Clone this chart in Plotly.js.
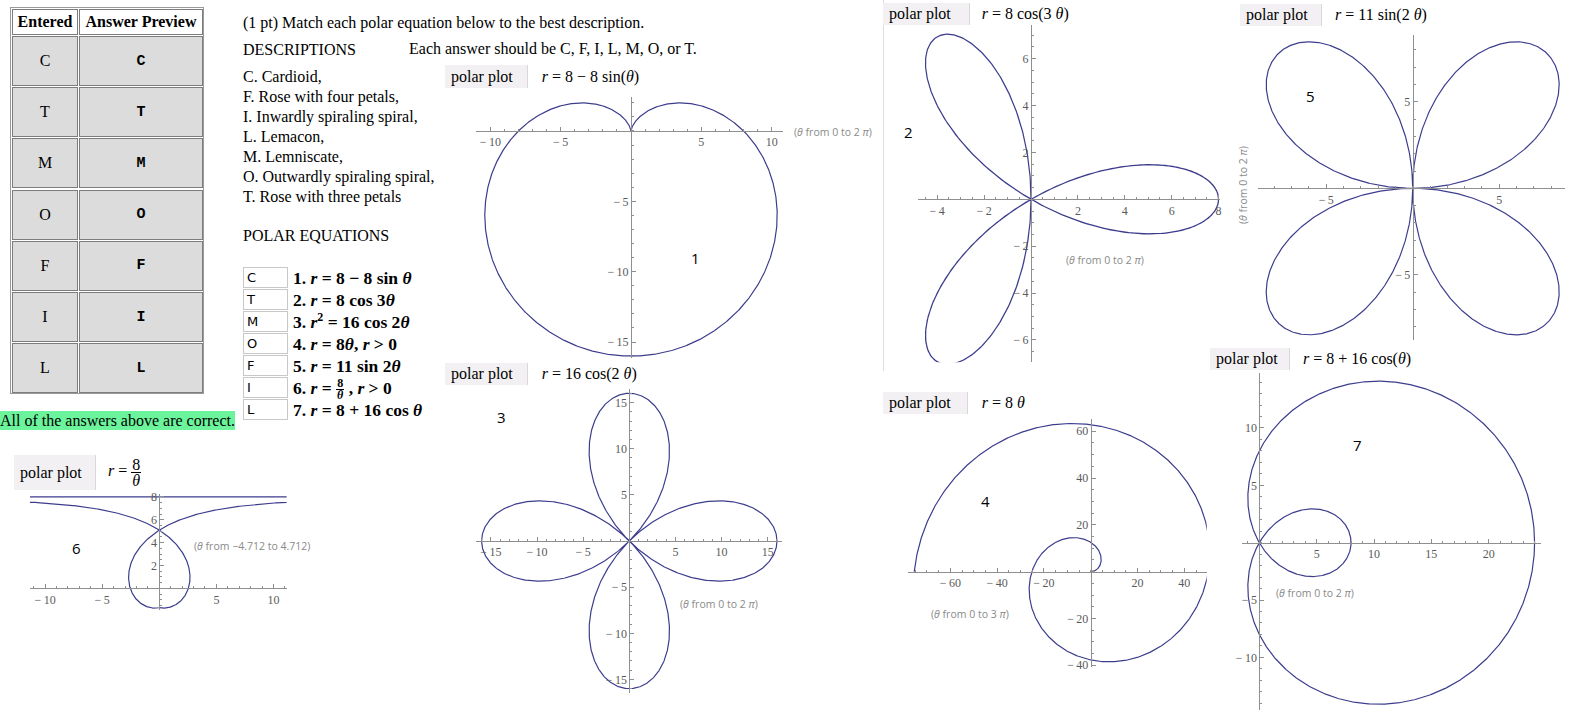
<!DOCTYPE html>
<html>
<head>
<meta charset="utf-8">
<script src="https://cdn.plot.ly/plotly-3.0.1.min.js"></script>
<style>
  html, body { margin:0; padding:0; }
  body { width:1592px; height:719px; overflow:hidden; background:#fff; position:relative;
         font-family:'Liberation Serif','Times New Roman',serif; color:#000; }
  #chart { position:absolute; left:0; top:0; width:1592px; height:719px; }
  .ov { position:absolute; white-space:nowrap; }
  .cell { position:absolute; box-sizing:border-box; border:1px solid #7d7d7d; display:flex;
          align-items:center; justify-content:center; font-size:16px; }
  .hdr { font-weight:bold; background:#fff; }
  .dat { background:#dcdcdc; }
  .mono { font-family:'Liberation Mono','Courier New',monospace; font-weight:bold; font-size:15px; }
  .txt { font-size:16px; line-height:20px; }
  .inp { position:absolute; box-sizing:border-box; width:45px; height:21px; border:1px solid #c8c8c8;
         font-family:'DejaVu Sans',sans-serif; font-size:13px; line-height:19px; padding-left:3px; }
  .eq { position:absolute; font-size:17.5px; font-weight:bold; white-space:nowrap; line-height:20px; }
  .eq sup { font-size:12px; line-height:0; vertical-align:7px; }
  .pp { position:absolute; box-sizing:border-box; background:#f3f0f3; border-right:1px solid #d8d8d8;
        font-size:16px; padding-left:6px; display:flex; align-items:center; }
  .pe { position:absolute; font-size:16px; white-space:pre; display:flex; align-items:center; }
  .frac { display:inline-block; vertical-align:middle; text-align:center; line-height:15px; }
  .frac span { display:block; padding:0 1px; }
  .frac .num { border-bottom:1px solid #000; }
  .eq .frac { font-size:12px; line-height:11px; vertical-align:-5px; }
</style>
</head>
<body>
<div id="chart"></div>
<div id="overlay"></div>
<script>
// ---------------- data ----------------
const entered = ['C', 'T', 'M', 'O', 'F', 'I', 'L'];
const descriptions = ['C. Cardioid,', 'F. Rose with four petals,', 'I. Inwardly spiraling spiral,',
  'L. Lemacon,', 'M. Lemniscate,', 'O. Outwardly spiraling spiral,', 'T. Rose with three petals'];
const problemEquations = [
  '1. <i>r</i> = 8 − 8 sin <i>θ</i>',
  '2. <i>r</i> = 8 cos 3<i>θ</i>',
  '3. <i>r</i><sup>2</sup> = 16 cos 2<i>θ</i>',
  '4. <i>r</i> = 8<i>θ</i>, <i>r</i> &gt; 0',
  '5. <i>r</i> = 11 sin 2<i>θ</i>',
  '6. <i>r</i> = <span class="frac"><span class="num">8</span><span><i>θ</i></span></span> , <i>r</i> &gt; 0',
  '7. <i>r</i> = 8 + 16 cos <i>θ</i>'
];

// polar plots, numbered 1..7
const plotNumbers = [1, 2, 3, 4, 5, 6, 7];
const plotHeaders = [
  '<i>r</i> = 8 − 8 sin(<i>θ</i>)',
  '<i>r</i> = 8 cos(3 <i>θ</i>)',
  '<i>r</i> = 16 cos(2 <i>θ</i>)',
  '<i>r</i> = 8 <i>θ</i>',
  '<i>r</i> = 11 sin(2 <i>θ</i>)',
  '<i>r</i> = <span class="frac"><span class="num">8</span><span><i>θ</i></span></span>',
  '<i>r</i> = 8 + 16 cos(<i>θ</i>)'
];
// r = radiusConst + radiusAmp * f(radiusFreq * θ)
const radiusKind  = ['sin', 'cos', 'cos', 'lin', 'sin', 'inv', 'cos'];
const radiusConst = [8, 0, 0, 0, 0, 0, 8];
const radiusAmp   = [-8, 8, 16, 8, 11, 8, 16];
const radiusFreq  = [1, 3, 2, 1, 2, 1, 1];
const thetaFrom   = [0, 0, 0, 0, 0, -4.712, 0];
const thetaTo     = [2 * Math.PI, 2 * Math.PI, 2 * Math.PI, 3 * Math.PI, 2 * Math.PI, 4.712, 2 * Math.PI];
const thetaLabels = ['0 to 2 <i>π</i>', '0 to 2 <i>π</i>', '0 to 2 <i>π</i>', '0 to 3 <i>π</i>',
                     '0 to 2 <i>π</i>', '−4.712 to 4.712', '0 to 2 <i>π</i>'];
const xTickValues = [[-10, -5, 5, 10], [-4, -2, 2, 4, 6, 8], [-15, -10, -5, 5, 10, 15],
                     [-60, -40, -20, 20, 40], [-5, 5], [-10, -5, 5, 10], [5, 10, 15, 20]];
const yTickValues = [[-15, -10, -5], [-6, -4, -2, 2, 4, 6], [-15, -10, -5, 5, 10, 15],
                     [-40, -20, 20, 40, 60], [-5, 5], [2, 4, 6, 8], [-10, -5, 5, 10]];
const xRanges = [[-11, 10.8], [-4.8, 8.06], [-16.6, 16.5], [-77.9, 49.6], [-8.92, 8.8], [-11.32, 11.15], [-1.53, 24.53]];
const yRanges = [[-16.15, 2.45], [-6.95, 7.45], [-16.5, 16.5], [-40.6, 65.1], [-8.77, 8.86], [-1.9, 8.3], [-14.6, 14.77]];

// ---------------- layout (pixels) ----------------
const W = 1592, H = 719;
const origin = [[631, 131], [1031, 199.3], [629.3, 541], [1090.7, 571.7], [1412.7, 188.3], [159.3, 588.3], [1259.3, 542.7]];
const pxPerUnit = [14.07, 23.45, 9.23, 2.34, 17.3, 11.42, 11.47];
const minorX = [1, 0.5, 1, 5, 1, 1, 1];
const minorY = [1, 0.5, 1, 5, 1, 0.5, 1];
const numberPos = [[695.7, 257.7], [908, 131.7], [501.7, 416.7], [985.7, 500.7], [1310.7, 95.7], [76.3, 548.3], [1357.7, 445]];
const rangeLabelPos = [[791.7, 132], [1064, 260], [678.3, 604.3], [929.3, 614.3], [1243, 185], [191.7, 546], [1274, 593]];
const headerBox = [[445, 65, 83, 23], [883, 3, 87, 22], [445, 363, 83, 22], [883, 392, 85, 22],
                   [1240, 4, 82, 22], [14, 455, 82, 35], [1210, 348, 80, 22]];
const headerEqX = [541.7, 981.7, 541.7, 981.7, 1335, 108, 1303];

const lineColor = '#3d3d8e';
const axisColor = '#8f8f8f';

function radius(i, t) {
  const k = radiusKind[i];
  if (k === 'sin') return radiusConst[i] + radiusAmp[i] * Math.sin(radiusFreq[i] * t);
  if (k === 'cos') return radiusConst[i] + radiusAmp[i] * Math.cos(radiusFreq[i] * t);
  if (k === 'lin') return radiusAmp[i] * t;
  return radiusAmp[i] / t;
}
function fmt(v) { return v < 0 ? '\u2212\u2009' + Math.abs(v) : String(v); }

const traces = [];
const layout = {
  width: W, height: H, autosize: false,
  margin: { l: 0, r: 0, t: 0, b: 0, pad: 0 },
  paper_bgcolor: '#ffffff', plot_bgcolor: 'rgba(0,0,0,0)',
  showlegend: false, annotations: [], shapes: []
};

for (let i = 0; i < 7; i++) {
  const n = 1500;
  const xs = [], ys = [];
  for (let j = 0; j < n; j++) {
    const t = thetaFrom[i] + (thetaTo[i] - thetaFrom[i]) * j / (n - 1);
    const r = radius(i, t);
    xs.push(r * Math.cos(t));
    ys.push(r * Math.sin(t));
  }
  const ax = i === 0 ? '' : String(i + 1);
  traces.push({ type: 'scatter', mode: 'lines', x: xs, y: ys, xaxis: 'x' + ax, yaxis: 'y' + ax,
                line: { color: lineColor, width: 1.2 }, hoverinfo: 'skip' });

  const [ox, oy] = origin[i], p = pxPerUnit[i];
  const left = ox + xRanges[i][0] * p, right = ox + xRanges[i][1] * p;
  const top = oy - yRanges[i][1] * p, bottom = oy - yRanges[i][0] * p;
  const tickfont = { family: 'Liberation Serif', size: 12, color: '#5a5a5a' };
  layout['xaxis' + ax] = {
    domain: [left / W, right / W], range: xRanges[i], anchor: 'free', position: 1 - oy / H,
    showgrid: false, zeroline: false, showline: true, linecolor: axisColor, linewidth: 1,
    tickmode: 'array', tickvals: xTickValues[i], ticktext: xTickValues[i].map(fmt),
    ticks: 'inside', ticklen: 4, tickcolor: axisColor, tickwidth: 1, tickfont: tickfont,
    minor: { tickmode: 'linear', tick0: 0, dtick: minorX[i], ticks: 'inside', ticklen: 2, tickcolor: axisColor },
    fixedrange: true
  };
  layout['yaxis' + ax] = {
    domain: [1 - bottom / H, 1 - top / H], range: yRanges[i], anchor: 'free', position: ox / W,
    showgrid: false, zeroline: false, showline: true, linecolor: axisColor, linewidth: 1,
    tickmode: 'array', tickvals: yTickValues[i], ticktext: yTickValues[i].map(fmt),
    ticks: 'inside', ticklen: 4, tickcolor: axisColor, tickwidth: 1, tickfont: tickfont,
    minor: { tickmode: 'linear', tick0: 0, dtick: minorY[i], ticks: 'inside', ticklen: 2, tickcolor: axisColor },
    fixedrange: true
  };

  // plot number
  layout.annotations.push({ xref: 'paper', yref: 'paper', x: numberPos[i][0] / W, y: 1 - numberPos[i][1] / H,
    text: String(plotNumbers[i]), showarrow: false, xanchor: 'center', yanchor: 'middle',
    font: { family: 'Open Sans, sans-serif', size: 15, color: '#000' } });
  // theta range label
  const vertical = i === 4;
  layout.annotations.push({ xref: 'paper', yref: 'paper', x: rangeLabelPos[i][0] / W, y: 1 - rangeLabelPos[i][1] / H,
    text: '(<i>θ</i> from ' + thetaLabels[i] + ')', showarrow: false,
    xanchor: vertical ? 'center' : 'left', yanchor: 'middle', textangle: vertical ? -90 : 0,
    font: { family: 'Open Sans, sans-serif', size: 10.5, color: '#8a8a8a' } });
}

Plotly.newPlot('chart', traces, layout, { staticPlot: true, displayModeBar: false });

// ---------------- HTML overlay: table, text, headers ----------------
const ov = document.getElementById('overlay');
let html = '';
// table
html += '<div class="ov" style="left:10px;top:7px;width:194px;height:387px;box-sizing:border-box;border:1px solid #9a9a9a"></div>';
const col = [[12, 66], [79, 124]];
html += `<div class="cell hdr" style="left:${col[0][0]}px;top:9px;width:${col[0][1]}px;height:26px">Entered</div>`;
html += `<div class="cell hdr" style="left:${col[1][0]}px;top:9px;width:${col[1][1]}px;height:26px">Answer Preview</div>`;
for (let k = 0; k < entered.length; k++) {
  const top = 36 + k * 51.2;
  html += `<div class="cell dat" style="left:${col[0][0]}px;top:${top}px;width:${col[0][1]}px;height:50px">${entered[k]}</div>`;
  html += `<div class="cell dat mono" style="left:${col[1][0]}px;top:${top}px;width:${col[1][1]}px;height:50px">${entered[k]}</div>`;
}
html += '<div class="ov txt" style="left:0px;top:411px;width:235px;height:19px;background:#6cf49c;line-height:19px">All of the answers above are correct.</div>';

// text
html += '<div class="ov txt" style="left:243px;top:13px">(1 pt) Match each polar equation below to the best description.</div>';
html += '<div class="ov txt" style="left:243px;top:40px">DESCRIPTIONS</div>';
html += '<div class="ov txt" style="left:409px;top:39px">Each answer should be C, F, I, L, M, O, or T.</div>';
descriptions.forEach((d, k) => {
  html += `<div class="ov txt" style="left:243px;top:${66.7 + k * 20}px">${d}</div>`;
});
html += '<div class="ov txt" style="left:243px;top:226px">POLAR EQUATIONS</div>';
entered.forEach((e, k) => {
  const top = 267 + k * 22;
  html += `<div class="inp" style="left:243px;top:${top}px">${e}</div>`;
  html += `<div class="eq" style="left:293px;top:${top + 0.5}px">${problemEquations[k]}</div>`;
});

// separator line
html += '<div class="ov" style="left:883px;top:0px;width:1px;height:371px;background:#dedede"></div>';

// polar plot headers
for (let i = 0; i < 7; i++) {
  const [l, t, w, h] = headerBox[i];
  html += `<div class="pp" style="left:${l}px;top:${t}px;width:${w}px;height:${h}px">polar plot</div>`;
  html += `<div class="pe" style="left:${headerEqX[i]}px;top:${t}px;height:${h}px"><span>${plotHeaders[i]}</span></div>`;
}
ov.innerHTML = html;
</script>
</body>
</html>
